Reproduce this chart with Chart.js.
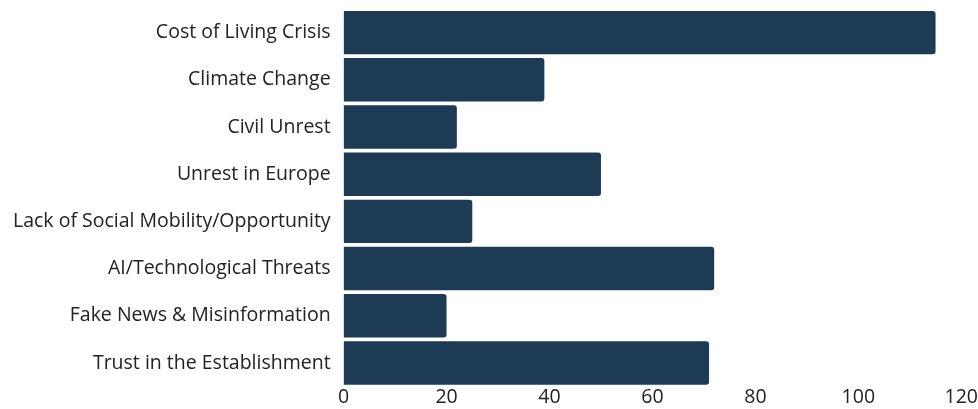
<!DOCTYPE html>
<html>
<head>
<meta charset="utf-8">
<script src="https://cdn.jsdelivr.net/npm/chart.js@4/dist/chart.umd.min.js"></script>
<style>
  html, body { margin: 0; padding: 0; background: #fff; }
  #wrap { width: 978px; height: 409px; }
</style>
</head>
<body>
<div id="wrap"><canvas id="chart"></canvas></div>
<script>
const categories = [
  'Cost of Living Crisis',
  'Climate Change',
  'Civil Unrest',
  'Unrest in Europe',
  'Lack of Social Mobility/Opportunity',
  'AI/Technological Threats',
  'Fake News & Misinformation',
  'Trust in the Establishment'
];
const values = [115, 39, 22, 50, 25, 72, 20, 71];
const xTicks = [0, 20, 40, 60, 80, 100, 120];

const ctx = document.getElementById('chart').getContext('2d');
new Chart(ctx, {
  type: 'bar',
  data: {
    labels: categories,
    datasets: [{
      data: values,
      backgroundColor: '#1e3b55',
      borderRadius: 3,
      borderSkipped: 'start',
      barPercentage: 0.92,
      categoryPercentage: 1
    }]
  },
  options: {
    indexAxis: 'y',
    responsive: true,
    maintainAspectRatio: false,
    animation: false,
    layout: { padding: { top: 9, right: 2, left: 0, bottom: 0 } },
    plugins: { legend: { display: false }, tooltip: { enabled: false } },
    scales: {
      x: {
        min: 0, max: 120,
        afterBuildTicks: axis => { axis.ticks = xTicks.map(v => ({ value: v })); },
        grid: { display: false, drawTicks: false },
        border: { display: false },
        ticks: { color: '#222', font: { family: 'Open Sans', size: 19.5, lineHeight: 1.15 }, padding: 0 }
      },
      y: {
        afterFit: s => { s.paddingTop = 0; s.paddingBottom = 0; },
        grid: { display: false, drawTicks: false },
        border: { display: false },
        ticks: { color: '#222', font: { family: 'Open Sans', size: 19.5 }, padding: 13 }
      }
    }
  }
});
</script>
</body>
</html>
